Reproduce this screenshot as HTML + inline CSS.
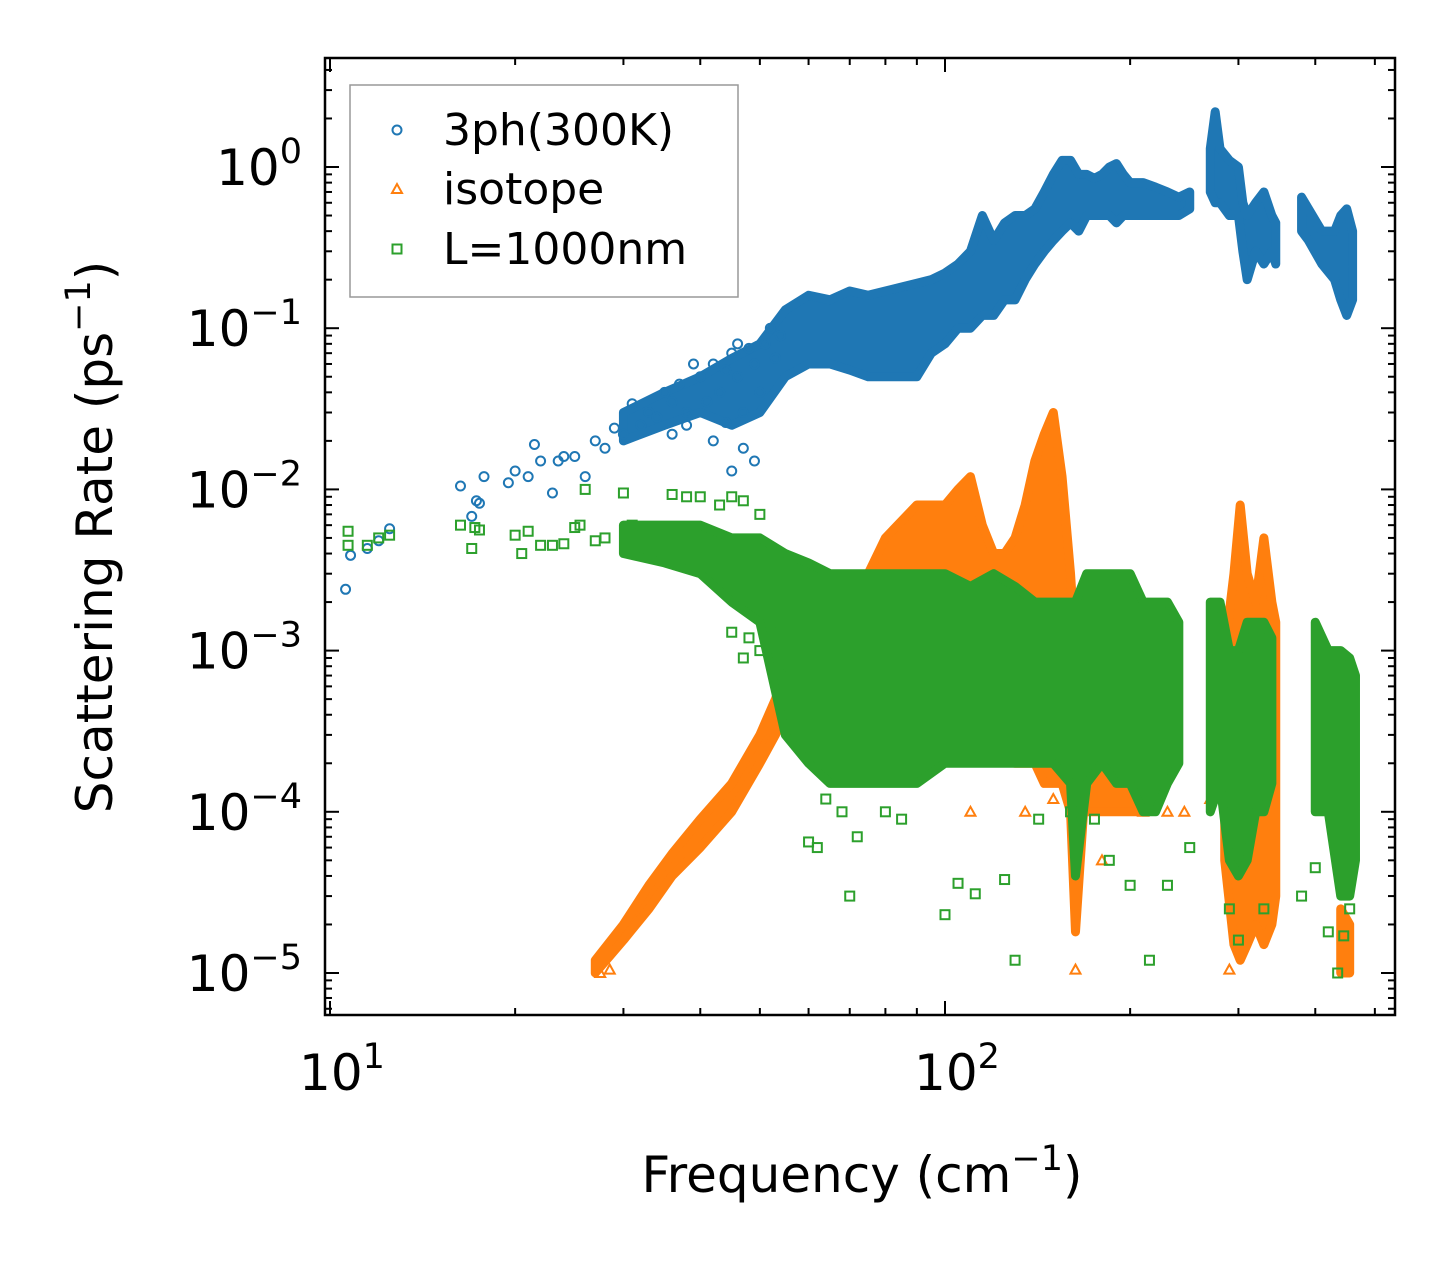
<!DOCTYPE html>
<html><head><meta charset="utf-8"><style>
html,body{margin:0;padding:0;background:#fff;}
svg{display:block;font-family:"DejaVu Sans","Liberation Sans",sans-serif;}
</style></head><body>
<svg id="chart" width="1455" height="1265" viewBox="0 0 1455 1265" xmlns="http://www.w3.org/2000/svg">
<rect width="1455" height="1265" fill="#fff"/>
<g id="plot"></g>
<g id="axes"></g>
</svg>
<script>
// ---- data ----
const blueFreq=[10.6,10.8,11.5,12,12.5,16.3,17,17.3,17.5,17.8,19.5,20,21,21.5,22,23,23.5,24,25,26,27,28,29,30,31,32,33,34,35,36,37,38,39,40,41,42,43,44,45,46,47,48,49,50,51,52,45,47,49,42,36,38,44,53,54,46];
const blueRate=[0.0024,0.0039,0.0043,0.0048,0.0057,0.0105,0.0068,0.0085,0.0082,0.012,0.011,0.013,0.012,0.019,0.015,0.0095,0.015,0.016,0.016,0.012,0.02,0.018,0.024,0.022,0.034,0.025,0.03,0.028,0.04,0.035,0.045,0.03,0.06,0.05,0.035,0.06,0.04,0.055,0.07,0.05,0.03,0.075,0.06,0.04,0.08,0.1,0.013,0.018,0.015,0.02,0.022,0.025,0.026,0.065,0.09,0.08];
const blueBandF=[30,35,40,45,50,55,60,65,70,75,80,85,90,95,100,105,110,115,120,125,130,135,140,145,150,155,160,165,170,175,180,185,190,195,200,210,220,230,240,250,258,270,275,280,290,300,305,310,320,330,340,345,360,380,390,410,430,440,450,460];
const blueBandLo=[0.02,0.025,0.03,0.025,0.03,0.05,0.06,0.06,0.055,0.05,0.05,0.05,0.05,0.07,0.08,0.1,0.1,0.12,0.12,0.15,0.15,0.2,0.25,0.3,0.35,0.4,0.45,0.4,0.5,0.5,0.5,0.5,0.45,0.5,0.5,0.5,0.5,0.5,0.5,0.55,null,0.7,0.6,0.6,0.5,0.5,0.3,0.2,0.3,0.25,0.3,0.25,null,0.4,0.35,0.25,0.2,0.15,0.12,0.15];
const blueBandHi=[0.03,0.04,0.05,0.065,0.08,0.13,0.16,0.15,0.17,0.16,0.17,0.18,0.19,0.2,0.22,0.25,0.3,0.5,0.35,0.45,0.5,0.5,0.55,0.7,0.9,1.1,1.1,0.9,0.9,0.85,0.9,1.0,1.05,0.9,0.8,0.8,0.75,0.7,0.65,0.7,null,1.3,2.2,1.3,1.1,1.0,0.6,0.5,0.6,0.7,0.5,0.45,null,0.65,0.55,0.4,0.4,0.5,0.55,0.4];
const orangeFreq=[163,110,135,150,210,230,180,245,270,290,27.5,28.5];
const orangeRate=[1.05e-5,1e-4,1e-4,1.2e-4,1e-4,1e-4,5e-5,1e-4,1.2e-4,1.05e-5,1e-5,1.05e-5];
const orangeBandF=[27,30,33,36,40,45,50,53,56,57,65,75,80,90,100,105,110,115,120,125,130,135,140,145,150,155,160,163,168,175,185,195,200,210,250,285,295,302,310,320,330,340,345,400,440,455];
const orangeBandLo=[1e-5,1.6e-5,2.5e-5,4e-5,6e-5,1e-4,2e-4,3e-4,5e-4,3e-4,3e-4,3e-4,3e-4,3e-4,3e-4,3e-4,3e-4,3e-4,3e-4,3e-4,2e-4,2e-4,2e-4,1.5e-4,1.5e-4,1.5e-4,1e-4,1.8e-5,1e-4,1e-4,1e-4,1e-4,1e-4,1e-4,null,5e-5,1.5e-5,1.2e-5,1.5e-5,2e-5,1.5e-5,2e-5,3e-5,null,1e-5,1e-5];
const orangeBandHi=[1.2e-5,2e-5,3.5e-5,5.5e-5,9e-5,1.5e-4,3e-4,5e-4,9e-4,1.5e-3,2.5e-3,3e-3,5e-3,8e-3,8e-3,1e-2,1.2e-2,6e-3,4e-3,4e-3,5e-3,8e-3,1.5e-2,2.2e-2,3e-2,1.2e-2,3e-3,1e-3,1e-3,6e-4,5e-4,4e-4,3e-4,3e-4,null,1e-3,3e-3,8e-3,3e-3,2e-3,5e-3,2e-3,1.5e-3,null,2.5e-5,2e-5];
const greenFreq=[10.7,10.7,11.5,12,12.5,16.3,17,17.2,17.5,20,20.5,21,22,23,24,25,25.5,26,27,28,30,31,36,38,40,43,45,47,50,48,47,50,52,45,54,60,62,70,64,68,72,80,85,100,105,112,125,130,142,160,175,185,200,215,230,250,290,300,330,380,400,420,435,445,455];
const greenRate=[0.0055,0.0045,0.0045,0.005,0.0052,0.006,0.0043,0.0058,0.0056,0.0052,0.004,0.0055,0.0045,0.0045,0.0046,0.0058,0.006,0.01,0.0048,0.005,0.0095,0.006,0.0093,0.009,0.009,0.008,0.009,0.0085,0.007,0.0012,0.0009,0.001,0.0015,0.0013,0.0008,6.5e-5,6e-5,3e-5,1.2e-4,1e-4,7e-5,1e-4,9e-5,2.3e-5,3.6e-5,3.1e-5,3.8e-5,1.2e-5,9e-5,1e-4,9e-5,5e-5,3.5e-5,1.2e-5,3.5e-5,6e-5,2.5e-5,1.6e-5,2.5e-5,3e-5,4.5e-5,1.8e-5,1e-5,1.7e-5,2.5e-5];
const greenBandF=[30,35,40,45,50,55,60,65,70,80,90,100,110,120,130,140,150,160,163,170,180,190,200,210,220,230,240,255,270,280,290,300,310,320,330,340,370,400,420,440,455,465];
const greenBandLo=[0.004,0.0035,0.003,0.002,0.0015,3e-4,2e-4,1.5e-4,1.5e-4,1.5e-4,1.5e-4,2e-4,2e-4,2e-4,2e-4,2e-4,2e-4,1.5e-4,4e-5,1.5e-4,2e-4,1.5e-4,1.5e-4,1e-4,1e-4,1.5e-4,2e-4,null,1e-4,1.5e-4,5e-5,4e-5,5e-5,1e-4,1e-4,1.5e-4,null,1e-4,1e-4,3e-5,3e-5,5e-5];
const greenBandHi=[0.006,0.006,0.006,0.005,0.005,4e-3,3.5e-3,3e-3,3e-3,3e-3,3e-3,3e-3,2.5e-3,3e-3,2.5e-3,2e-3,2e-3,2e-3,2e-3,3e-3,3e-3,3e-3,3e-3,2e-3,2e-3,2e-3,1.5e-3,null,2e-3,2e-3,1e-3,1e-3,1.5e-3,1.5e-3,1.5e-3,1.2e-3,null,1.5e-3,1e-3,1e-3,9e-4,7e-4];
const xTickVals=[10,100];
const xTickLabels=["1","2"];
const yTickVals=[1,0.1,0.01,0.001,1e-4,1e-5];
const yTickLabels=["0","\u22121","\u22122","\u22123","\u22124","\u22125"];

const L=325,R=1395,T=58,B=1015;
const X0=330,XD=615, Y0=167,YD=161.2;
const sx=f=>X0+XD*Math.log10(f/10);
const sy=v=>Y0-YD*Math.log10(v);
const NS="http://www.w3.org/2000/svg";
const plot=document.getElementById('plot'), axes=document.getElementById('axes');
function mk(tag,attrs,parent){const e=document.createElementNS(NS,tag);for(const k in attrs)e.setAttribute(k,attrs[k]);parent.appendChild(e);return e;}
const clip=mk('clipPath',{id:'pc'},plot);mk('rect',{x:L,y:T,width:R-L,height:B-T},clip);
const gData=mk('g',{'clip-path':'url(#pc)'},plot);



function band(F,Lo,Hi,color,name){
  let segs=[],cur=[];
  for(let i=0;i<F.length;i++){ if(Lo[i]===null){if(cur.length)segs.push(cur);cur=[];} else cur.push(i);}
  if(cur.length)segs.push(cur);
  segs.forEach(s=>{
    let p2=s.map(i=>sx(F[i])+','+sy(Hi[i]));
    p2=p2.concat(s.slice().reverse().map(i=>sx(F[i])+','+sy(Lo[i])));
    const p=mk('polygon',{points:p2.join(' '),fill:color,stroke:color,'stroke-width':9,'stroke-linejoin':'round'},gData);
    
    
  });
}
function marker(kind,cx,cy,color,parent){
  let e;
  if(kind==='o') e=mk('circle',{cx:cx,cy:cy,r:4.5,fill:'none',stroke:color,'stroke-width':2},parent);
  else if(kind==='^') e=mk('polygon',{points:`${cx},${cy-5} ${cx-5},${cy+4} ${cx+5},${cy+4}`,fill:'none',stroke:color,'stroke-width':2},parent);
  else e=mk('rect',{x:cx-4.5,y:cy-4.5,width:9,height:9,fill:'none',stroke:color,'stroke-width':2},parent);
  return e;
}
function pts(F,V,kind,color,name){
  for(let i=0;i<F.length;i++){
    const e=marker(kind,sx(F[i]),sy(V[i]),color,gData);
    
    
  }
}
const C1='#1f77b4',C2='#ff7f0e',C3='#2ca02c';
band(blueBandF,blueBandLo,blueBandHi,C1,'3ph');
pts(blueFreq,blueRate,'o',C1,'3ph');
band(orangeBandF,orangeBandLo,orangeBandHi,C2,'isotope');
pts(orangeFreq,orangeRate,'^',C2,'isotope');
band(greenBandF,greenBandLo,greenBandHi,C3,'boundary');
pts(greenFreq,greenRate,'s',C3,'boundary');

const fr=mk('rect',{x:L,y:T,width:R-L,height:B-T,fill:'none',stroke:'#000','stroke-width':2.5},axes);


for(let d=1;d<=2;d++){for(let m=1;m<=9;m++){const f=Math.pow(10,d)*m;const x=sx(f);if(x<L||x>R)continue;const len=m===1?14:7;
  mk('line',{x1:x,y1:B,x2:x,y2:B-len,stroke:'#000','stroke-width':2},axes);
  mk('line',{x1:x,y1:T,x2:x,y2:T+len,stroke:'#000','stroke-width':2},axes);}}
xTickVals.forEach((v,i)=>{const t=mk('text',{x:sx(v)+12,y:1090,'font-size':50,'text-anchor':'middle'},axes);
  
  
  t.innerHTML='10<tspan dy="-22" font-size="35">'+xTickLabels[i]+'</tspan>';});
for(let d=-6;d<=0;d++){for(let m=1;m<=9;m++){const v=Math.pow(10,d)*m;const y=sy(v);if(y<T||y>B)continue;const len=m===1?14:7;
  mk('line',{x1:L,y1:y,x2:L+len,y2:y,stroke:'#000','stroke-width':2},axes);
  mk('line',{x1:R,y1:y,x2:R-len,y2:y,stroke:'#000','stroke-width':2},axes);}}
yTickVals.forEach((v,i)=>{const t=mk('text',{x:302,y:sy(v)+18,'font-size':50,'text-anchor':'end'},axes);
  
  
  t.innerHTML='10<tspan dy="-22" font-size="35">'+yTickLabels[i]+'</tspan>';});
const xt=mk('text',{x:862,y:1192,'font-size':50,'text-anchor':'middle'},axes);


xt.innerHTML='Frequency (cm<tspan dy="-22" font-size="35">\u22121</tspan><tspan dy="22">)</tspan>';
const yt=mk('text',{x:0,y:0,'font-size':50,'text-anchor':'middle',transform:'translate(112,537) rotate(-90)'},axes);


yt.innerHTML='Scattering Rate (ps<tspan dy="-22" font-size="35">\u22121</tspan><tspan dy="22">)</tspan>';
const lg=mk('g',{},axes);


mk('rect',{x:350,y:85,width:388,height:212,fill:'#fff',stroke:'#999','stroke-width':1.5},lg);
const entries=[['o',C1,'3ph(300K)',130],['^',C2,'isotope',189],['s',C3,'L=1000nm',249]];
entries.forEach(en=>{const g=mk('g',{},lg);
  
  
  marker(en[0],397,en[3],en[1],g);
  const t=mk('text',{x:443,y:en[3]+15,'font-size':44},g);t.textContent=en[2];});
</script>
</body></html>
